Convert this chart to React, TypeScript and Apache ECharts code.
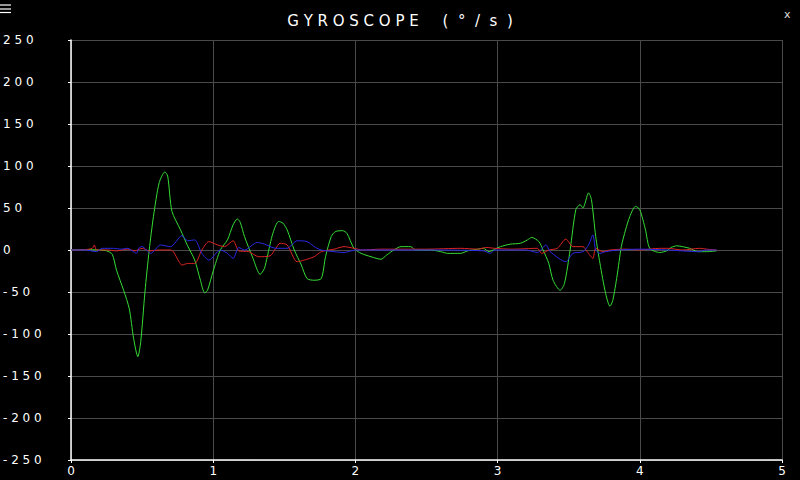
import React, { useEffect, useRef } from 'react';
import * as echarts from 'echarts';

// time (s) and angular rate (°/s)
const gyroX: [number, number][] = [
  [0, 0], [0.1, 0.5], [0.2, 0], [0.25, -1], [0.29, -5], [0.32, -24], [0.37, -48], [0.41, -70],
  [0.44, -105], [0.47, -127], [0.49, -110], [0.52, -50], [0.55, 0], [0.58, 40], [0.62, 80],
  [0.66, 93], [0.68, 88], [0.71, 46], [0.77, 24], [0.82, 5], [0.87, -12], [0.91, -36],
  [0.94, -51], [0.96, -48], [1.0, -25], [1.05, 0], [1.1, 12], [1.14, 30], [1.17, 37],
  [1.19, 33], [1.22, 16], [1.28, -10], [1.33, -29], [1.36, -22], [1.38, -8], [1.42, 20],
  [1.46, 34], [1.49, 32], [1.52, 24], [1.57, 0], [1.62, -18], [1.66, -34], [1.71, -36],
  [1.76, -34], [1.79, -8], [1.83, 16], [1.86, 22], [1.91, 23], [1.94, 20], [1.99, 2],
  [2.04, -4], [2.11, -8], [2.18, -11], [2.22, -6], [2.27, 0], [2.32, 4], [2.39, 4], [2.42, 0],
  [2.53, 0], [2.6, -2], [2.65, -4], [2.74, -4], [2.79, -1], [2.86, 1], [2.9, 2], [2.94, -2],
  [2.98, 1], [3.02, 4], [3.09, 7], [3.16, 8], [3.21, 12], [3.24, 15], [3.29, 10], [3.32, 0],
  [3.36, -16], [3.39, -36], [3.44, -48], [3.47, -40], [3.51, 0], [3.55, 48], [3.58, 54],
  [3.6, 50], [3.64, 68], [3.66, 60], [3.69, 16], [3.72, -16], [3.76, -52], [3.79, -67],
  [3.81, -60], [3.84, -31], [3.87, 4], [3.9, 24], [3.93, 40], [3.97, 52], [4.0, 48],
  [4.04, 24], [4.07, 2], [4.14, -3], [4.19, -1], [4.22, 3], [4.26, 5], [4.3, 4], [4.35, 2],
  [4.41, -2], [4.47, -2], [4.54, -1],
];

const gyroY: [number, number][] = [
  [0, 0], [0.1, 0.5], [0.15, 2], [0.164, 6], [0.18, 0], [0.25, 0], [0.32, -1], [0.4, 1],
  [0.45, -1], [0.5, 2], [0.55, -1], [0.62, 0], [0.7, 0], [0.72, -2], [0.76, -14], [0.78, -18],
  [0.82, -16], [0.87, -16], [0.92, 0], [0.97, 10], [1.03, 6], [1.08, 4], [1.14, 11],
  [1.18, -1], [1.25, -2], [1.32, -8], [1.4, -7], [1.44, 2], [1.47, 8], [1.52, 6], [1.59, -14],
  [1.64, -12], [1.71, -8], [1.76, -2], [1.85, 1], [1.92, 4], [1.99, 2], [2.05, 0], [2.18, 1],
  [2.3, 1], [2.5, 1], [2.74, 2], [2.86, 1], [2.92, 3], [2.98, 2], [3.1, 1], [3.28, 2],
  [3.31, -4], [3.36, 0], [3.42, 2], [3.48, 13], [3.53, 4], [3.6, 4], [3.63, -2], [3.67, -10],
  [3.69, 2], [3.74, -2], [3.79, 0], [3.9, 1], [4.0, 0], [4.14, 2], [4.2, 2], [4.3, 0],
  [4.42, 2], [4.47, 1], [4.54, 0],
];

const gyroZ: [number, number][] = [
  [0, 0], [0.1, 0], [0.18, -2], [0.22, 2], [0.3, 2], [0.35, 1], [0.4, 2], [0.43, -1],
  [0.46, -4], [0.48, 3], [0.5, 4], [0.56, -4], [0.63, 6], [0.7, 4], [0.78, 17], [0.82, 11],
  [0.87, 12], [0.92, -4], [0.97, -12], [1.05, 0], [1.1, -4], [1.14, -10], [1.18, 3],
  [1.22, 0], [1.31, 9], [1.36, 7], [1.44, 2], [1.52, 2], [1.59, 11], [1.66, 10], [1.72, 3],
  [1.76, 0], [1.85, -2], [1.92, -3], [2.0, 0], [2.5, 0], [2.9, -1], [2.95, -4], [2.98, 0],
  [3.2, 0], [3.28, -3], [3.34, 6], [3.37, -2], [3.48, -14], [3.53, -4], [3.6, -2], [3.64, 6],
  [3.67, 18], [3.69, 0], [3.72, -4], [3.76, -2], [3.85, 0], [4.0, 1], [4.2, 0], [4.41, -2],
  [4.47, 0], [4.54, 0],
];

const NB = '\u00a0';
// title drawn with wide letter spacing, as on the device screen
const titleText =
  'G Y R O S C O P E'.split(' ').join(NB) +
  NB.repeat(5) +
  ['(', '°', '/', 's', ')'].join(NB + NB);
const seriesColors = ['#35dd35', '#dd2424', '#2a2ae6'];

const spaced = (s: string) => s.split('').join(NB);

const App: React.FC = () => {
  const chartRef = useRef<HTMLDivElement>(null);

  useEffect(() => {
    if (!chartRef.current) return;
    document.body.style.margin = '0';
    document.body.style.background = '#000';
    const chart = echarts.init(chartRef.current, undefined, { renderer: 'svg' });
    const font = 'DejaVu Sans';

    const lineSeries = (name: string, data: [number, number][], color: string) => ({
      name,
      type: 'line',
      data,
      showSymbol: false,
      smooth: 0.25,
      lineStyle: { color, width: 1 },
      itemStyle: { color },
    });

    chart.setOption({
      animation: false,
      backgroundColor: '#000',
      title: {
        text: titleText,
        left: 'center',
        top: 8,
        textStyle: { color: '#fff', fontFamily: font, fontSize: 15, fontWeight: 'normal' },
      },
      grid: { left: 70, right: 18, top: 40, bottom: 20 },
      xAxis: {
        type: 'value',
        min: 0,
        max: 5,
        interval: 1,
        axisLine: { onZero: false, lineStyle: { color: '#fff', width: 1.5 } },
        axisTick: { show: true, length: 3, lineStyle: { color: '#fff' } },
        axisLabel: { color: '#fff', fontFamily: font, fontSize: 12, margin: 5 },
        splitLine: { show: true, lineStyle: { color: '#4a4a4a', width: 1 } },
      },
      yAxis: {
        type: 'value',
        min: -250,
        max: 250,
        interval: 50,
        axisLine: { show: true, onZero: false, lineStyle: { color: '#fff', width: 1.5 } },
        axisTick: { show: true, length: 3, lineStyle: { color: '#fff' } },
        axisLabel: {
          color: '#fff',
          fontFamily: font,
          fontSize: 12,
          align: 'left',
          margin: 68,
          formatter: (v: number) => spaced(String(v)),
        },
        splitLine: { show: true, lineStyle: { color: '#4a4a4a', width: 1 } },
      },
      graphic: [
        { type: 'line', shape: { x1: 0, y1: 5, x2: 11, y2: 5 }, style: { stroke: '#fff', lineWidth: 1.2 } },
        { type: 'line', shape: { x1: 0, y1: 9, x2: 11, y2: 9 }, style: { stroke: '#fff', lineWidth: 1.2 } },
        { type: 'line', shape: { x1: 0, y1: 12.5, x2: 11, y2: 12.5 }, style: { stroke: '#fff', lineWidth: 1.2 } },
        {
          type: 'text',
          x: 784,
          y: 9,
          style: { text: 'x', fill: '#ddd', font: `11px "${font}"` },
        },
      ],
      series: [
        lineSeries('x', gyroX, seriesColors[0]),
        lineSeries('y', gyroY, seriesColors[1]),
        lineSeries('z', gyroZ, seriesColors[2]),
      ],
    });

    return () => {
      chart.dispose();
    };
  }, []);

  return (
    <div style={{ position: 'fixed', left: 0, top: 0, width: 800, height: 480, background: '#000' }}>
      <div ref={chartRef} style={{ width: 800, height: 480 }} />
    </div>
  );
};

export default App;
